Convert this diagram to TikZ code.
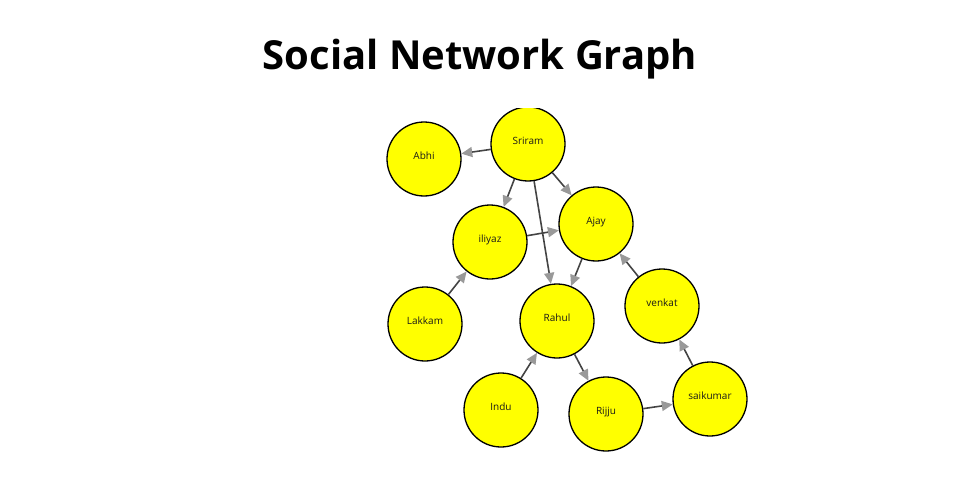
\documentclass[tikz,border=0pt]{standalone}
\usepackage{fontspec}
\setmainfont{Open Sans}
\usetikzlibrary{arrows.meta}
\definecolor{nodefill}{RGB}{255,255,0}
\definecolor{linkline}{RGB}{68,68,68}
\definecolor{linktip}{RGB}{153,153,153}

\begin{document}
\begin{tikzpicture}[x=1pt, y=-1pt,
    person/.style={circle, draw=black, line width=1.3pt, fill=nodefill,
      minimum size=74pt, inner sep=0pt, text height=0pt, text depth=0pt,
      font=\fontsize{10}{12}\selectfont, text=black!90},
    link/.style={draw=linkline, line width=1.6pt,
      -{Triangle[length=11pt, width=10pt, color=linktip]}}]
    \useasboundingbox (0, 0) rectangle (960, 500);
    \node [anchor=base, font=\bfseries\fontsize{40}{48}\selectfont] (title) at (480, 70) {Social Network Graph};
    \begin{scope}
      \clip (0, 109) rectangle (960, 500);
      \node [person] (sriram) at (528, 144) {Sriram};
      \node [person] (abhi) at (424, 159) {Abhi};
      \node [person] (iliyaz) at (490, 242) {iliyaz};
      \node [person] (ajay) at (596, 224) {Ajay};
      \node [person] (lakkam) at (425, 324) {Lakkam};
      \node [person] (rahul) at (557, 321) {Rahul};
      \node [person] (venkat) at (662, 306) {venkat};
      \node [person] (indu) at (501, 410) {Indu};
      \node [person] (rijju) at (606, 414) {Rijju};
      \node [person] (saikumar) at (710, 399) {saikumar};
      \draw [link] (sriram) -- (abhi);
      \draw [link] (sriram) -- (iliyaz);
      \draw [link] (sriram) -- (ajay);
      \draw [link] (sriram) -- (rahul);
      \draw [link] (iliyaz) -- (ajay);
      \draw [link] (ajay) -- (rahul);
      \draw [link] (lakkam) -- (iliyaz);
      \draw [link] (venkat) -- (ajay);
      \draw [link] (indu) -- (rahul);
      \draw [link] (rahul) -- (rijju);
      \draw [link] (rijju) -- (saikumar);
      \draw [link] (saikumar) -- (venkat);
    \end{scope}
  \end{tikzpicture}
\end{document}
